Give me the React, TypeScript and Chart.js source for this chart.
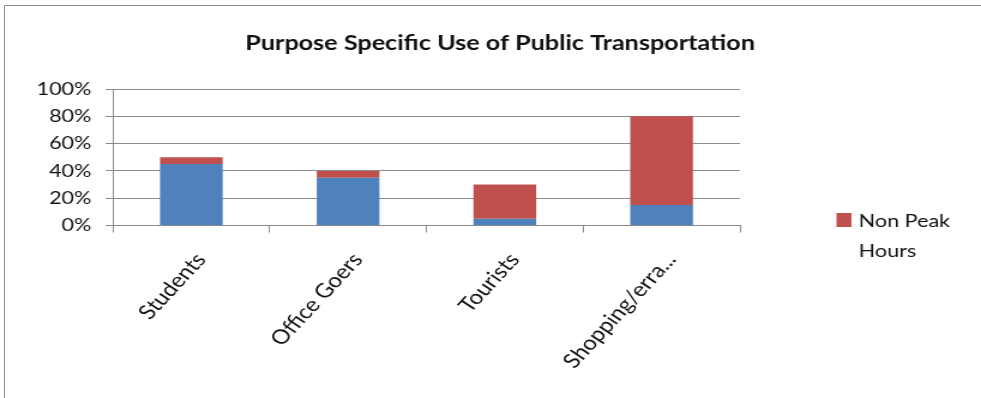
import React, { useEffect, useRef } from 'react';
import { Chart, registerables } from 'chart.js';

Chart.register(...registerables);

// ---- data ----
const categories = ['Students', 'Office Goers', 'Tourists', 'Shopping/erra...'];
const peakHours = [45, 35, 5, 15];
const nonPeakHours = [5, 5, 25, 65];
const yTicks = [0, 20, 40, 60, 80, 100];
const chartTitle = 'Purpose Specific Use of Public Transportation';
const seriesNames = ['Peak Hours', 'Non Peak Hours'];
const legendLines = ['Non Peak', 'Hours'];

// ---- layout / style ----
const W = 818;
const H = 398;
const SX = 981 / W;
const FONT = 'Lato, "Open Sans", sans-serif';
const BLUE = '#4F81BD';
const RED = '#C0504D';
const GRID = '#8a8a8a';
const TEXT = '#111111';

const overlayPlugin = {
  id: 'overlay',
  afterDraw(chart: any) {
    const ctx = chart.ctx as CanvasRenderingContext2D;
    ctx.save();
    ctx.fillStyle = TEXT;
    ctx.font = `bold 21px ${FONT}`;
    ctx.textAlign = 'center';
    ctx.textBaseline = 'alphabetic';
    ctx.fillText(chartTitle, 417, 50);

    ctx.fillStyle = RED;
    ctx.fillRect(697.5, 213, 12.5, 14);
    ctx.fillStyle = TEXT;
    ctx.font = `18px ${FONT}`;
    ctx.textAlign = 'left';
    legendLines.forEach((t, i) => ctx.fillText(t, 716, 227 + i * 30));
    ctx.restore();
  },
};

export default function App() {
  const ref = useRef<HTMLCanvasElement | null>(null);

  useEffect(() => {
    if (!ref.current) return;
    const chart = new Chart(ref.current, {
      type: 'bar',
      data: {
        labels: categories,
        datasets: [
          {
            label: seriesNames[0],
            data: peakHours,
            backgroundColor: BLUE,
            barPercentage: 0.4,
            categoryPercentage: 1.0,
            stack: 's',
          },
          {
            label: seriesNames[1],
            data: nonPeakHours,
            backgroundColor: RED,
            barPercentage: 0.4,
            categoryPercentage: 1.0,
            stack: 's',
          },
        ],
      },
      options: {
        responsive: false,
        animation: false,
        devicePixelRatio: 1,
        layout: { padding: { top: 89, right: 201, left: 0, bottom: 0 } },
        plugins: {
          legend: { display: false },
          title: { display: false },
          tooltip: { enabled: false },
        },
        scales: {
          x: {
            stacked: true,
            offset: true,
            grid: {
              offset: true,
              drawOnChartArea: false,
              drawTicks: true,
              tickLength: 7,
              color: GRID,
            },
            border: { display: true, color: GRID },
            ticks: {
              autoSkip: false,
              minRotation: 52,
              maxRotation: 52,
              padding: 16,
              labelOffset: 8,
              color: TEXT,
              font: { family: FONT, size: 20 },
            },
            afterFit: (s: any) => {
              s.height = 172.5;
            },
          },
          y: {
            stacked: true,
            min: 0,
            max: 100,
            grid: { color: GRID, tickLength: 6, drawTicks: true },
            border: { display: true, color: GRID },
            ticks: {
              stepSize: 20,
              padding: 12,
              color: TEXT,
              font: { family: FONT, size: 18 },
              callback: (v: any) => `${v}%`,
            },
            afterBuildTicks: (s: any) => {
              s.ticks = yTicks.map((v) => ({ value: v }));
            },
            afterFit: (s: any) => {
              s.width = 94.2;
            },
          },
        },
      },
      plugins: [overlayPlugin],
    });
    return () => chart.destroy();
  }, []);

  return (
    <div
      style={{
        position: 'fixed',
        left: 0,
        top: 0,
        width: 981,
        height: 398,
        overflow: 'hidden',
        background: '#fff',
      }}
    >
      <div
        style={{
          position: 'absolute',
          left: 4,
          top: 5,
          width: 1000,
          height: 420,
          border: '1px solid #8c8c8c',
          boxSizing: 'border-box',
        }}
      />
      <div
        style={{
          position: 'absolute',
          left: 0,
          top: 0,
          width: W,
          height: H,
          transform: `scaleX(${SX})`,
          transformOrigin: '0 0',
        }}
      >
        <canvas ref={ref} width={W} height={H} style={{ width: W, height: H, display: 'block' }} />
      </div>
    </div>
  );
}
